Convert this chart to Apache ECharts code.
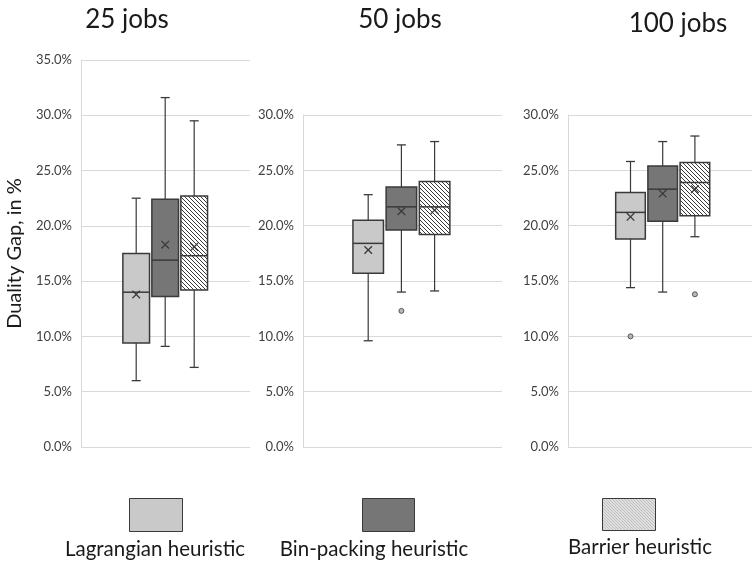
<!DOCTYPE html>
<html>
<head>
<meta charset="utf-8">
<script src="https://cdn.jsdelivr.net/npm/echarts@6/dist/echarts.min.js"></script>
<style>
  html, body { margin: 0; padding: 0; background: #ffffff; }
  #chart { width: 752px; height: 561px; }
</style>
</head>
<body>
<div id="chart"></div>
<script>
// ---- data -------------------------------------------------------------
const heuristics = ['Lagrangian heuristic', 'Bin-packing heuristic', 'Barrier heuristic'];
const panelTitles = ['25 jobs', '50 jobs', '100 jobs'];
const yAxisMax = [35, 30, 30];
const yTickStep = 5;

// five-number summaries per heuristic: [min, Q1, median, Q3, max], duality gap in %
const box25 = [
  [6.0, 9.4, 14.0, 17.5, 22.5],
  [9.1, 13.6, 16.9, 22.4, 31.6],
  [7.2, 14.2, 17.3, 22.7, 29.5]
];
const mean25 = [13.8, 18.3, 18.1];
const outliers25 = [[], [], []];

const box50 = [
  [9.6, 15.7, 18.4, 20.5, 22.8],
  [14.0, 19.6, 21.7, 23.5, 27.3],
  [14.1, 19.2, 21.7, 24.0, 27.6]
];
const mean50 = [17.8, 21.3, 21.4];
const outliers50 = [[], [12.3], []];

const box100 = [
  [14.4, 18.8, 21.2, 23.0, 25.8],
  [14.0, 20.4, 23.3, 25.4, 27.6],
  [19.0, 20.9, 23.9, 25.7, 28.1]
];
const mean100 = [20.8, 22.9, 23.3];
const outliers100 = [[10.0], [], [13.8]];

// ---- styling ----------------------------------------------------------
const FONT = 'Lato, "Open Sans", "DejaVu Sans", sans-serif';
const EDGE = '#3a3a3a';
const GRID_COLOR = '#d9d9d9';

function hatchPattern(size, color, width) {
  const c = document.createElement('canvas');
  c.width = c.height = size;
  const g = c.getContext('2d');
  g.fillStyle = '#ffffff';
  g.fillRect(0, 0, size, size);
  g.strokeStyle = color;
  g.lineWidth = width;
  g.beginPath();
  g.moveTo(-1, -1); g.lineTo(size + 1, size + 1);
  g.moveTo(-1, size - 1); g.lineTo(1, size + 1);
  g.moveTo(size - 1, -1); g.lineTo(size + 1, 1);
  g.stroke();
  return c;
}
const boxFills = [
  '#c9c9c9',
  '#767676',
  { image: hatchPattern(4, '#3a3a3a', 1), repeat: 'repeat' }
];
const legendFills = [
  '#c9c9c9',
  '#767676',
  { image: hatchPattern(3, '#707070', 0.9), repeat: 'repeat' }
];

const panels = [
  { boxes: box25, means: mean25, outliers: outliers25 },
  { boxes: box50, means: mean50, outliers: outliers50 },
  { boxes: box100, means: mean100, outliers: outliers100 }
];

// pixel layout of each panel: full-width plot area and the narrower band holding the boxes
const layout = [
  { bgLeft: 81,  bgWidth: 169, boxLeft: 121.7, boxWidth: 87,   top: 60,  titleX: 127, titleY: 7 },
  { bgLeft: 303, bgWidth: 199, boxLeft: 351.6, boxWidth: 99.6, top: 115, titleX: 400, titleY: 7 },
  { bgLeft: 568, bgWidth: 189, boxLeft: 614.4, boxWidth: 96.6, top: 115, titleX: 678, titleY: 11 }
];
const plotBottom = 447;
const BOX_RATIO = 0.92;
const CAP_HALF = 4.5;
const MEAN_HALF = 3.8;

function renderBox(params, api) {
  const k = api.value(0);
  const at = d => api.coord([k, api.value(d)]);
  const x = at(1)[0];
  const yMin = at(1)[1], yQ1 = at(2)[1], yMed = at(3)[1], yQ3 = at(4)[1], yMax = at(5)[1], yMean = at(6)[1];
  const half = api.size([1, 0])[0] * BOX_RATIO / 2;
  const line = (x1, y1, x2, y2, w) => ({
    type: 'line', shape: { x1, y1, x2, y2 }, style: { stroke: EDGE, lineWidth: w }
  });
  return {
    type: 'group',
    children: [
      line(x, yQ3, x, yMax, 1.2),
      line(x - CAP_HALF, yMax, x + CAP_HALF, yMax, 1.3),
      line(x, yQ1, x, yMin, 1.2),
      line(x - CAP_HALF, yMin, x + CAP_HALF, yMin, 1.3),
      {
        type: 'rect',
        shape: { x: x - half, y: yQ3, width: half * 2, height: yQ1 - yQ3 },
        style: { fill: boxFills[k], stroke: EDGE, lineWidth: 1.5 }
      },
      line(x - half, yMed, x + half, yMed, 1.5),
      line(x - MEAN_HALF, yMean - MEAN_HALF, x + MEAN_HALF, yMean + MEAN_HALF, 1.3),
      line(x - MEAN_HALF, yMean + MEAN_HALF, x + MEAN_HALF, yMean - MEAN_HALF, 1.3)
    ]
  };
}

const grid = [], xAxis = [], yAxis = [], series = [];
panels.forEach((p, i) => {
  const L = layout[i];
  const h = plotBottom - L.top;
  grid.push({ left: L.bgLeft, top: L.top, width: L.bgWidth, height: h });
  grid.push({ left: L.boxLeft, top: L.top, width: L.boxWidth, height: h });

  xAxis.push({ gridIndex: 2 * i, type: 'category', data: [''], show: false });
  xAxis.push({ gridIndex: 2 * i + 1, type: 'category', data: heuristics, show: false });

  yAxis.push({
    gridIndex: 2 * i, type: 'value', min: 0, max: yAxisMax[i], interval: yTickStep,
    axisLine: { show: true, lineStyle: { color: GRID_COLOR, width: 1 } },
    axisTick: { show: false },
    axisLabel: {
      formatter: v => v.toFixed(1) + '%', color: '#404040',
      fontSize: 13, fontFamily: FONT, margin: 9
    },
    splitLine: { show: true, lineStyle: { color: GRID_COLOR, width: 1 } },
    name: i === 0 ? 'Duality Gap, in %' : '',
    nameLocation: 'middle', nameRotate: 90, nameGap: 56,
    nameTextStyle: { fontSize: 20, fontFamily: FONT, color: '#1a1a1a' }
  });
  yAxis.push({ gridIndex: 2 * i + 1, type: 'value', min: 0, max: yAxisMax[i], interval: yTickStep, show: false });

  series.push({
    type: 'custom',
    xAxisIndex: 2 * i + 1, yAxisIndex: 2 * i + 1,
    data: p.boxes.map((b, k) => [k].concat(b, [p.means[k]])),
    encode: { x: 0, y: [1, 2, 3, 4, 5, 6] },
    renderItem: renderBox,
    z: 3
  });

  const pts = [];
  p.outliers.forEach((vals, k) => vals.forEach(v => pts.push([k, v])));
  series.push({
    type: 'scatter',
    xAxisIndex: 2 * i + 1, yAxisIndex: 2 * i + 1,
    data: pts,
    symbol: 'circle', symbolSize: 5,
    itemStyle: { color: '#a8a8a8', borderColor: EDGE, borderWidth: 1 },
    z: 4
  });
});

// legend: swatch above each label
const legendSwatches = [
  { x: 129, y: 498, w: 53, h: 33 },
  { x: 362, y: 498, w: 52, h: 33 },
  { x: 602, y: 498, w: 53, h: 32 }
];
const legendLabels = [
  { x: 155, y: 549 },
  { x: 374, y: 549 },
  { x: 640, y: 547 }
];
const graphic = [];
heuristics.forEach((name, k) => {
  const s = legendSwatches[k];
  graphic.push({
    type: 'rect', left: s.x, top: s.y,
    shape: { width: s.w, height: s.h },
    style: { fill: legendFills[k], stroke: EDGE, lineWidth: 1 }
  });
  graphic.push({
    type: 'text', x: legendLabels[k].x, y: legendLabels[k].y,
    style: {
      text: name, font: '20.5px ' + FONT, fill: '#1a1a1a',
      align: 'center', verticalAlign: 'middle',
      textAlign: 'center', textVerticalAlign: 'middle'
    }
  });
});

const option = {
  animation: false,
  backgroundColor: '#ffffff',
  title: panelTitles.map((t, i) => ({
    text: t, left: layout[i].titleX, top: layout[i].titleY, textAlign: 'center', padding: 0,
    textStyle: { fontSize: 26, fontWeight: 'normal', fontFamily: FONT, color: '#1a1a1a' }
  })),
  grid, xAxis, yAxis, series, graphic
};

const chart = echarts.init(document.getElementById('chart'), null, { renderer: 'canvas' });
chart.setOption(option);
</script>
</body>
</html>
